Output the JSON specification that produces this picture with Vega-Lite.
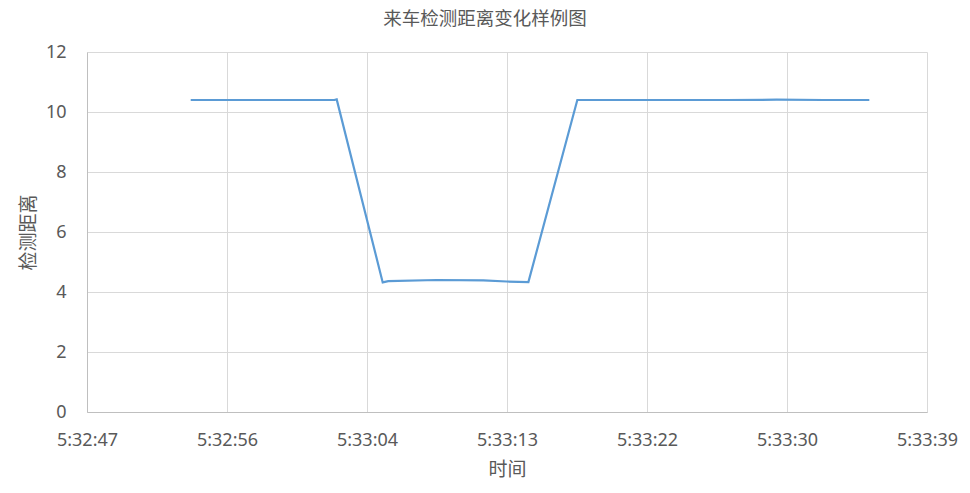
{
  "$schema": "https://vega.github.io/schema/vega-lite/v6.json",
  "width": 840,
  "height": 360,
  "autosize": {"type": "none"},
  "padding": {"left": 87, "top": 52, "right": 43, "bottom": 81},
  "background": "white",
  "title": {
    "text": "来车检测距离变化样例图",
    "font": "Noto Sans CJK SC",
    "fontSize": 18.5,
    "fontWeight": "normal",
    "color": "#595959",
    "anchor": "middle",
    "dx": -22,
    "offset": 15
  },
  "data": {
    "values": [
      {"t": 19973.44, "d": 10.4},
      {"t": 19976.40, "d": 10.4},
      {"t": 19979.40, "d": 10.4},
      {"t": 19982.30, "d": 10.4},
      {"t": 19982.45, "d": 10.42},
      {"t": 19985.29, "d": 4.32},
      {"t": 19985.63, "d": 4.36},
      {"t": 19988.62, "d": 4.40},
      {"t": 19991.50, "d": 4.39},
      {"t": 19992.94, "d": 4.35},
      {"t": 19994.28, "d": 4.33},
      {"t": 19997.30, "d": 10.4},
      {"t": 20000.30, "d": 10.4},
      {"t": 20003.40, "d": 10.4},
      {"t": 20006.50, "d": 10.4},
      {"t": 20009.60, "d": 10.41},
      {"t": 20012.50, "d": 10.4},
      {"t": 20015.32, "d": 10.4}
    ]
  },
  "mark": {"type": "line", "color": "#5b9bd5", "strokeWidth": 2.2},
  "encoding": {
    "x": {
      "field": "t",
      "type": "quantitative",
      "scale": {"domain": [19967.04, 20018.88], "nice": false, "zero": false},
      "axis": {
        "values": [19967.04, 19975.68, 19984.32, 19992.96, 20001.6, 20010.24, 20018.88],
        "labelExpr": "utcFormat(round(datum.value) * 1000, '%-H:%M:%S')",
        "labelFlush": false,
        "labelOverlap": false,
        "labelPadding": 19,
        "title": "时间",
        "titlePadding": 11
      }
    },
    "y": {
      "field": "d",
      "type": "quantitative",
      "scale": {"domain": [0, 12], "nice": false},
      "axis": {
        "values": [0, 2, 4, 6, 8, 10, 12],
        "labelPadding": 21,
        "title": "检测距离",
        "titlePadding": 7
      }
    }
  },
  "config": {
    "view": {"stroke": null},
    "axis": {
      "grid": true,
      "gridColor": "#d9d9d9",
      "gridWidth": 1,
      "domainColor": "#bfbfbf",
      "domainWidth": 1,
      "ticks": false,
      "labelFont": "Noto Sans",
      "labelFontSize": 18,
      "labelColor": "#595959",
      "titleFont": "Noto Sans CJK SC",
      "titleFontSize": 19,
      "titleFontWeight": "normal",
      "titleColor": "#595959"
    }
  }
}
